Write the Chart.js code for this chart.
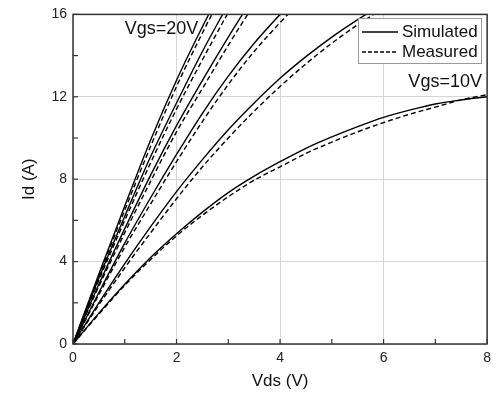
<!DOCTYPE html>
<html><head><meta charset="utf-8">
<script src="https://cdn.jsdelivr.net/npm/chart.js@4"></script>
<style>html,body{margin:0;padding:0;background:#fff}</style>
</head><body>
<canvas id="c" width="497" height="398"></canvas>
<script>
// Vds sample points (V) and Id values (A) per gate voltage
const vds10 = [0,0.5,1,1.5,2,2.5,3,3.5,4,4.5,5,5.5,6,6.5,7,7.5,8];
const sim10 = [0,1.5,2.9,4.2,5.35,6.4,7.35,8.15,8.85,9.5,10.05,10.55,11.0,11.35,11.65,11.85,12.0];
const meas10 = [0,1.45,2.85,4.1,5.25,6.25,7.15,7.95,8.6,9.25,9.8,10.3,10.75,11.15,11.5,11.85,12.1];

const vds12 = [0,0.5,1,1.5,2,2.5,3,3.5,4,4.5,5,5.5,6];
const sim12 = [0,2.0,3.9,5.7,7.4,8.95,10.4,11.7,12.9,13.95,14.9,15.75,16.5];
const meas12 = [0,1.9,3.7,5.4,7.05,8.6,10.0,11.3,12.5,13.6,14.6,15.5,16.3];

const vds14 = [0,0.5,1,1.5,2,2.5,3,3.5,4,4.5];
const sim14 = [0,2.5,4.9,7.1,9.2,11.2,13.0,14.6,16.0,17.3];
const meas14 = [0,2.4,4.7,6.8,8.85,10.8,12.6,14.2,15.6,16.9];

const vds16 = [0,0.5,1,1.5,2,2.5,3,3.5];
const sim16 = [0,2.9,5.6,8.2,10.6,12.8,14.9,16.9];
const meas16 = [0,2.8,5.4,7.9,10.3,12.4,14.5,16.5];

const vds18 = [0,0.5,1,1.5,2,2.5,3];
const sim18 = [0,3.2,6.2,9.1,11.7,14.2,16.5];
const meas18 = [0,3.1,6.0,8.8,11.4,13.8,16.1];

const vds20 = [0,0.5,1,1.5,2,2.5,3];
const sim20 = [0,3.4,6.7,9.9,12.8,15.4,17.8];
const meas20 = [0,3.3,6.5,9.6,12.5,15.1,17.5];

const xTicks = [0,2,4,6,8];
const yTicks = [0,4,8,12,16];
const seriesNames = ['Simulated','Measured'];

function pts(xs, ys){ return xs.map((x,i)=>({x:x, y:ys[i]})); }
function ds(label, xs, ys, dashed){
  return {label, data: pts(xs, ys), borderColor:'#000', borderWidth:1.4,
    borderDash: dashed ? [5,3] : [], pointRadius:0, cubicInterpolationMode:'monotone', fill:false};
}
const datasets = [
  ds('Simulated 10V', vds10, sim10, false), ds('Measured 10V', vds10, meas10, true),
  ds('Simulated 12V', vds12, sim12, false), ds('Measured 12V', vds12, meas12, true),
  ds('Simulated 14V', vds14, sim14, false), ds('Measured 14V', vds14, meas14, true),
  ds('Simulated 16V', vds16, sim16, false), ds('Measured 16V', vds16, meas16, true),
  ds('Simulated 18V', vds18, sim18, false), ds('Measured 18V', vds18, meas18, true),
  ds('Simulated 20V', vds20, sim20, false), ds('Measured 20V', vds20, meas20, true)
];

const FONT = '"Liberation Sans", Arial, sans-serif';

const decor = {
  id:'decor',
  afterDraw(chart){
    const {ctx, chartArea:a, scales:{x, y}} = chart;
    ctx.save();
    // inward ticks (major + minor)
    ctx.strokeStyle = '#333'; ctx.lineWidth = 1.2;
    for (let v = 0; v <= 8; v += 1){
      const px = x.getPixelForValue(v);
      ctx.beginPath(); ctx.moveTo(px, a.bottom); ctx.lineTo(px, a.bottom-5); ctx.stroke();
    }
    for (let v = 0; v <= 16; v += 2){
      const py = y.getPixelForValue(v);
      ctx.beginPath(); ctx.moveTo(a.left, py); ctx.lineTo(a.left+5, py); ctx.stroke();
    }
    // frame
    ctx.lineWidth = 1.5; ctx.strokeStyle = '#333';
    ctx.strokeRect(a.left, a.top, a.right-a.left, a.bottom-a.top);
    // annotations
    ctx.fillStyle = '#111'; ctx.font = '18px ' + FONT; ctx.textBaseline = 'middle';
    ctx.textAlign = 'left';
    ctx.fillText('Vgs=20V', x.getPixelForValue(1.0), y.getPixelForValue(15.3));
    ctx.textAlign = 'right';
    ctx.fillText('Vgs=10V', x.getPixelForValue(7.9), y.getPixelForValue(12.7));
    // legend
    const lx = 358, ly = 18, lw = 123, lh = 45;
    ctx.fillStyle = '#fff'; ctx.fillRect(lx, ly, lw, lh);
    ctx.strokeStyle = '#999'; ctx.lineWidth = 1; ctx.strokeRect(lx+0.5, ly+0.5, lw, lh);
    ctx.strokeStyle = '#000'; ctx.lineWidth = 1.4;
    ctx.beginPath(); ctx.moveTo(362, 32); ctx.lineTo(398, 32); ctx.stroke();
    ctx.setLineDash([4,2]);
    ctx.beginPath(); ctx.moveTo(362, 52); ctx.lineTo(398, 52); ctx.stroke();
    ctx.setLineDash([]);
    ctx.fillStyle = '#111'; ctx.font = '17px ' + FONT; ctx.textAlign = 'left';
    ctx.fillText(seriesNames[0], 402, 32);
    ctx.fillText(seriesNames[1], 402, 52);
    ctx.restore();
  }
};

new Chart(document.getElementById('c'), {
  type:'line',
  data:{datasets},
  plugins:[decor],
  options:{
    responsive:false, animation:false, devicePixelRatio:1,
    layout:{padding:{left:0, right:9, top:9, bottom:0}},
    plugins:{legend:{display:false}, tooltip:{enabled:false}},
    scales:{
      x:{type:'linear', min:0, max:8,
        afterFit(s){ s.height = 54; },
        afterBuildTicks(s){ s.ticks = xTicks.map(v=>({value:v})); },
        ticks:{font:{size:14, family:FONT}, color:'#222', padding:6, maxRotation:0},
        grid:{color:'#d6d6d6', lineWidth:1, drawTicks:false},
        border:{display:false},
        title:{display:true, text:'Vds (V)', font:{size:17, family:FONT}, color:'#111', padding:{top:0, bottom:6}}
      },
      y:{type:'linear', min:0, max:16,
        afterFit(s){ s.width = 73; },
        afterBuildTicks(s){ s.ticks = yTicks.map(v=>({value:v})); },
        ticks:{font:{size:14, family:FONT}, color:'#222', padding:6},
        grid:{color:'#d6d6d6', lineWidth:1, drawTicks:false},
        border:{display:false},
        title:{display:true, text:'Id (A)', font:{size:17, family:FONT}, color:'#111', padding:{top:19, bottom:0}}
      }
    }
  }
});
</script>
</body></html>
